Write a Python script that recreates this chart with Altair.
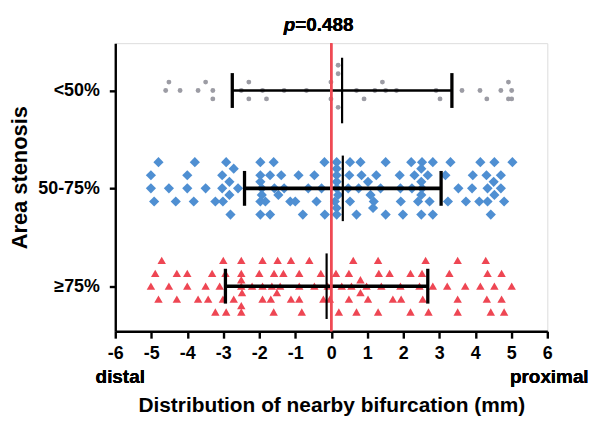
import altair as alt
import pandas as pd

# ---------------- data ----------------
groups = ["<50%", "50-75%", "≥75%"]
group_pos = [3, 2, 1]

# x positions (mm) of the dots, grouped by their stacking level (up = positive)
lt50_levels = {
    3: [0.19],
    2: [0.19],
    1: [-4.51, -3.49, -2.29, -0.01, 1.42, 4.92],
    0: [-4.60, -4.20, -3.70, -3.29, -2.50, -1.91, -1.31, -0.69, 0.70, 1.21, 1.51,
        1.81, 2.91, 3.63, 4.13, 4.71, 5.01],
    -1: [-3.29, -2.29, -1.80, -0.01, 0.91, 3.02, 4.32, 4.92, 5.01],
    -2: [0.19],
}
mid_levels = {
    4: [-4.80, -3.79, -2.92, -1.97, -1.60, -0.19, 0.15, 0.52, 0.81, 1.51, 2.22, 2.52,
        2.82, 3.31, 4.14, 4.53, 5.03],
    3: [-2.71, 0.15, 2.50],
    2: [-5.01, -4.00, -3.03, -1.97, -1.70, -1.39, -0.91, -0.47, 0.15, 0.50, 0.84, 1.25,
        1.90, 2.31, 2.68, 3.17, 3.93, 4.31, 4.71],
    1: [-2.83, -1.97, 0.15, 1.02, 2.50, 4.51],
    0: [-5.01, -4.51, -4.00, -3.49, -3.03, -2.59, -1.93, -1.58, -1.31, -0.64, -0.27,
        0.15, 0.47, 0.76, 1.37, 1.92, 2.24, 2.52, 3.53, 3.91, 4.34, 4.71],
    -1: [-2.83, -1.93, -1.47, 0.19, 1.09, 2.50, 4.53],
    -2: [-4.92, -4.32, -3.82, -3.22, -3.01, -1.97, -1.83, -1.14, -1.00, -0.41, 0.10,
         0.52, 1.18, 1.93, 2.41, 2.73, 3.24, 3.74, 4.11, 4.34, 4.80],
    -3: [0.15, 1.16],
    -4: [-2.80, -1.97, -1.70, -0.79, -0.18, 0.15, 0.70, 1.51, 1.99, 2.50, 2.82, 4.43],
}
ge75_levels = {
    4: [-4.71, -3.00, -2.50, -1.91, -1.49, -1.12, -0.61, 0.61, 1.30, 2.62, 3.51, 4.29],
    2: [-4.89, -4.29, -4.00, -3.31, -2.94, -2.50, -2.00, -1.59, -1.33, -0.89, -0.29,
        0.13, 0.49, 1.32, 1.62, 2.20, 2.52, 3.28, 4.34, 4.73],
    1: [-2.50, 0.81],
    0: [-5.01, -4.51, -4.00, -3.49, -3.10, -2.50, -2.20, -1.91, -1.65, -1.42, -0.89,
        -0.47, -0.10, 0.29, 0.56, 0.98, 1.39, 1.92, 2.45, 2.82, 3.22, 3.72, 4.14,
        4.53, 5.01],
    -1: [-2.48, -1.51, 0.81],
    -2: [-4.80, -4.29, -3.70, -3.42, -3.01, -2.71, -1.91, -1.68, -1.12, -0.89, -0.22,
         -0.04, 0.49, 1.02, 1.71, 1.94, 2.54, 3.51, 4.32, 4.73],
    -3: [-2.50],
    -4: [-3.22, -2.92, -2.50, -1.60, -0.82, 0.21, 0.70, 1.30, 2.20, 2.70, 3.51, 4.43,
         4.80],
}

means = [0.30, 0.32, -0.13]
sds = [3.05, 2.73, 2.81]
p_text = "=0.488"
x_ticks = [-6, -5, -4, -3, -2, -1, 0, 1, 2, 3, 4, 5, 6]

# ---------------- layout / style ----------------
level_step = {"<50%": 0.086, "50-75%": 0.067, "≥75%": 0.066}
bar_width = {"<50%": 2.4, "50-75%": 3.6, "≥75%": 3.6}
FONT = "Liberation Sans"


def build_points(name, pos, levels):
    rows = []
    for lvl, xs in levels.items():
        for x in xs:
            rows.append({"x": x, "y": pos + lvl * level_step[name], "group": name})
    return pd.DataFrame(rows)


pts_lt50 = build_points(groups[0], group_pos[0], lt50_levels)
pts_mid = build_points(groups[1], group_pos[1], mid_levels)
pts_ge75 = build_points(groups[2], group_pos[2], ge75_levels)

stats = pd.DataFrame({"group": groups, "pos": group_pos, "mean": means, "sd": sds})
stats["lo"] = stats["mean"] - stats["sd"]
stats["hi"] = stats["mean"] + stats["sd"]
stats["cap_lo"] = stats["pos"] - 0.178
stats["cap_hi"] = stats["pos"] + 0.178
stats["m_lo"] = stats["pos"] - 0.335
stats["m_hi"] = stats["pos"] + 0.335
stats["bw"] = [bar_width[g] for g in groups]

x_scale = alt.Scale(domain=[-6, 6], nice=False, zero=False)
y_scale = alt.Scale(domain=[0.54, 3.484], nice=False, zero=False)

x_axis = alt.Axis(
    values=x_ticks, tickCount=13, title="Distribution of nearby bifurcation (mm)",
    grid=False,
    labelExpr="datum.value < 0 ? '-' + abs(datum.value) : '' + datum.value",
    labelOverlap=False,
    labelFont=FONT, labelFontSize=18, labelFontWeight="bold", labelColor="black",
    labelPadding=6, labelFlush=False, tickSize=7, tickWidth=2.4, tickColor="black",
    domainColor="black", domainWidth=2.4, titleFont=FONT, titleFontSize=21,
    titleFontWeight="bold", titleColor="black", titlePadding=33,
)
y_axis = alt.Axis(
    values=group_pos, grid=False, title="Area stenosis",
    labelExpr="datum.value == 3 ? '<50%' : datum.value == 2 ? '50-75%' : '≥75%'",
    labelOverlap=False,
    labelFont=FONT, labelFontSize=18, labelFontWeight="bold", labelColor="black",
    labelPadding=10, tickSize=6, tickWidth=2.4, tickColor="black",
    domainColor="black", domainWidth=2.4, titleFont=FONT, titleFontSize=22,
    titleFontWeight="bold", titleColor="black", titlePadding=6, titleY=135,
)


def X(field):
    return alt.X(field, scale=x_scale, axis=x_axis)


def Y(field):
    return alt.Y(field, scale=y_scale, axis=y_axis)


circles = alt.Chart(pts_lt50).mark_circle(size=24, color="#9c9ca4", opacity=1).encode(
    x=X("x:Q"), y=Y("y:Q"))
diamonds = alt.Chart(pts_mid).mark_point(
    shape="diamond", filled=True, size=105, color="#4f8fd2", opacity=1
).encode(x=X("x:Q"), y=Y("y:Q"))
triangles = alt.Chart(pts_ge75).mark_point(
    shape="triangle-up", filled=True, size=72, color="#ee4653", opacity=1
).encode(x=X("x:Q"), y=Y("y:Q"))

base = alt.Chart(stats)
hbar = base.mark_rule(color="black").encode(
    x=X("lo:Q"), x2="hi:Q", y=Y("pos:Q"),
    strokeWidth=alt.StrokeWidth("bw:Q", scale=None),
)
cap_l = base.mark_rule(color="black", strokeWidth=3.3).encode(
    x=X("lo:Q"), y=Y("cap_lo:Q"), y2="cap_hi:Q"
)
cap_r = base.mark_rule(color="black", strokeWidth=3.3).encode(
    x=X("hi:Q"), y=Y("cap_lo:Q"), y2="cap_hi:Q"
)
mean_line = base.mark_rule(color="black", strokeWidth=2.2).encode(
    x=X("mean:Q"), y=Y("m_lo:Q"), y2="m_hi:Q"
)


def XD(v):
    return alt.X(datum=v, type="quantitative", scale=x_scale, axis=x_axis)


zero_line = alt.Chart(stats).mark_rule(color="#ef4a54", strokeWidth=2.2).encode(
    x=XD(0)
)

p_italic = alt.Chart(stats).mark_text(
    text="p", font=FONT, fontSize=19, fontWeight="bold", fontStyle="italic",
    align="right", baseline="middle", color="black",
).encode(x=XD(-1.0), y=alt.value(-18))
p_rest = alt.Chart(stats).mark_text(
    text=p_text, font=FONT, fontSize=19, fontWeight="bold",
    align="left", baseline="middle", color="black",
).encode(x=XD(-1.0), y=alt.value(-18))

distal = alt.Chart(stats).mark_text(
    text="distal", font=FONT, fontSize=19, fontWeight="bold", align="center",
    baseline="middle", color="black", dx=5,
).encode(x=XD(-6), y=alt.value(336))
proximal = alt.Chart(stats).mark_text(
    text="proximal", font=FONT, fontSize=19, fontWeight="bold", align="center",
    baseline="middle", color="black", dx=2,
).encode(x=XD(6), y=alt.value(336))

chart = alt.layer(
    circles, diamonds, triangles, hbar, cap_l, cap_r, mean_line, zero_line,
    p_italic, p_rest, distal, proximal,
).properties(
    width=435, height=290,
    autosize=alt.AutoSizeParams(type="none"),
    padding={"left": 108, "top": 34, "right": 46, "bottom": 88},
).configure_view(stroke=None).configure(background="white")

chart.save("out.html", embed_options={"renderer": "svg", "actions": False})
